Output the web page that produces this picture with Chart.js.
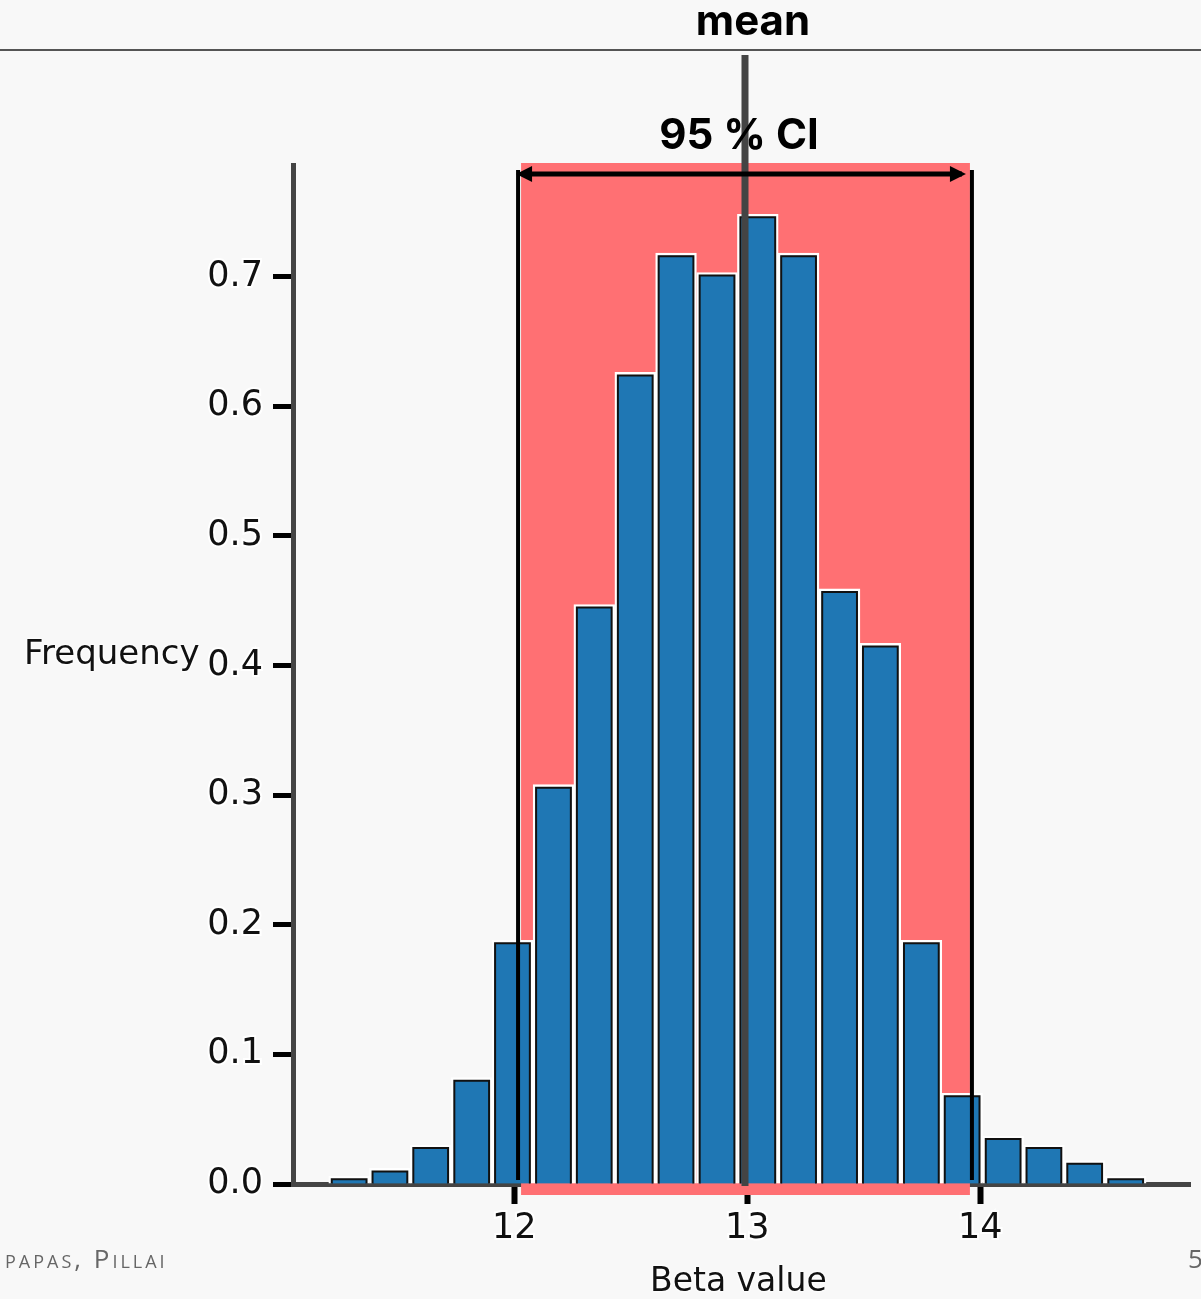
<!DOCTYPE html>
<html>
<head>
<meta charset="utf-8">
<script src="https://cdn.jsdelivr.net/npm/chart.js@4.4.1/dist/chart.umd.min.js"></script>
<style>
  html, body { margin: 0; padding: 0; background: #f8f8f8; }
  body { width: 1201px; height: 1299px; position: relative; overflow: hidden; }
  #wrap { position: absolute; left: 0; top: 0; width: 1201px; height: 1299px; }
  .lbl { position: absolute; white-space: nowrap; color: #111; }
  .halo { font-family: "DejaVu Sans", sans-serif; text-shadow: 0 0 3px #fff, 0 0 3px #fff, 0 0 2px #fff; }
  .head { font-family: Inter, "Open Sans", sans-serif; font-weight: 700; color: #000; transform: translateX(-50%); }
  #topline { position: absolute; left: 0; top: 49px; width: 1201px; height: 2px; background: #555; }
</style>
</head>
<body>
<div id="topline"></div>
<div id="wrap"><canvas id="hist"></canvas></div>
<div class="lbl head" style="left:753px; top:-6px; font-size:42px;">mean</div>
<div class="lbl head" style="left:739px; top:108px; font-size:42px;">95 % CI</div>
<div class="lbl halo" style="left:24px; top:632px; font-size:34px;">Frequency</div>
<div class="lbl halo" style="left:650px; top:1260px; font-size:33px;">Beta value</div>
<div class="lbl" style="left:5px; top:1240px; font-size:26px; font-family:'Open Sans',sans-serif; font-variant:small-caps; letter-spacing:3px; color:#666;">papas, Pillai</div>
<div class="lbl" style="left:1188px; top:1240px; font-size:26px; font-family:'Open Sans',sans-serif; color:#666;">5</div>
<script>
// histogram bins
var binCenters = [11.291, 11.466, 11.641, 11.817, 11.992, 12.168, 12.343, 12.519, 12.694, 12.870,
                  13.045, 13.220, 13.396, 13.571, 13.747, 13.922, 14.098, 14.273, 14.448, 14.624];
var frequency  = [0.006, 0.012, 0.030, 0.082, 0.188, 0.308, 0.447, 0.626, 0.718, 0.703,
                  0.748, 0.718, 0.459, 0.417, 0.188, 0.070, 0.037, 0.030, 0.018, 0.006];
var xTickValues = [12, 13, 14];
var yTickValues = [0.0, 0.1, 0.2, 0.3, 0.4, 0.5, 0.6, 0.7];
var meanValue = 12.99;
var ciBounds = [12.016, 13.964];

var points = [];
for (let i = 0; i < binCenters.length; i++) {
    points.push({x: binCenters[i], y: frequency[i]});
}

// red CI band behind the bars, lines and arrow on top
var ciPlugin = {
    id: 'ciPlugin',
    beforeDatasetsDraw: function (chart) {
        var ctx = chart.ctx, xs = chart.scales.x;
        var x0 = xs.getPixelForValue(ciBounds[0]), x1 = xs.getPixelForValue(ciBounds[1]);
        ctx.save();
        ctx.fillStyle = 'rgb(255, 112, 115)';
        ctx.fillRect(x0 + 3, 163, x1 - x0 - 5, 1195 - 163);
        ctx.restore();
    },
    afterDatasetsDraw: function (chart) {
        var ctx = chart.ctx, xs = chart.scales.x;
        // dark inner edge of the bars
        var meta = chart.getDatasetMeta(0);
        ctx.save();
        ctx.strokeStyle = '#111';
        ctx.lineWidth = 2;
        meta.data.forEach(function (bar) {
            var p = bar.getProps(['x', 'y', 'base', 'width'], true);
            var l = p.x - p.width / 2 + 3, r = p.x + p.width / 2 - 3;
            ctx.beginPath();
            ctx.moveTo(l, p.base);
            ctx.lineTo(l, p.y + 3);
            ctx.lineTo(r, p.y + 3);
            ctx.lineTo(r, p.base);
            ctx.stroke();
        });
        var x0 = xs.getPixelForValue(ciBounds[0]), x1 = xs.getPixelForValue(ciBounds[1]);
        var xm = xs.getPixelForValue(meanValue);
        // CI bounds
        ctx.strokeStyle = '#000';
        ctx.lineWidth = 4;
        [x0, x1].forEach(function (x) {
            ctx.beginPath();
            ctx.moveTo(x, 170);
            ctx.lineTo(x, 1180);
            ctx.stroke();
        });
        // mean line
        ctx.strokeStyle = '#444';
        ctx.lineWidth = 7;
        ctx.beginPath();
        ctx.moveTo(xm, 55);
        ctx.lineTo(xm, 1186);
        ctx.stroke();
        // double arrow
        var ay = 174;
        ctx.strokeStyle = '#000';
        ctx.fillStyle = '#000';
        ctx.lineWidth = 5;
        ctx.beginPath();
        ctx.moveTo(x0 + 10, ay);
        ctx.lineTo(x1 - 10, ay);
        ctx.stroke();
        ctx.beginPath();
        ctx.moveTo(x0 - 2, ay);
        ctx.lineTo(x0 + 14, ay - 8);
        ctx.lineTo(x0 + 14, ay + 8);
        ctx.closePath();
        ctx.fill();
        ctx.beginPath();
        ctx.moveTo(x1 - 6, ay);
        ctx.lineTo(x1 - 22, ay - 8);
        ctx.lineTo(x1 - 22, ay + 8);
        ctx.closePath();
        ctx.fill();
        ctx.restore();
    }
};

var tickFont = {family: 'DejaVu Sans', size: 35};

new Chart(document.getElementById('hist'), {
    type: 'bar',
    data: {
        datasets: [{
            label: 'Frequency',
            data: points,
            backgroundColor: '#1f77b4',
            borderColor: '#ffffff',
            borderWidth: 3,
            barPercentage: 1.0,
            categoryPercentage: 1.0
        }]
    },
    options: {
        responsive: true,
        maintainAspectRatio: false,
        animation: false,
        layout: {padding: {top: 165, right: 11, left: 0, bottom: 0}},
        plugins: {
            legend: {display: false},
            tooltip: {enabled: false}
        },
        scales: {
            x: {
                type: 'linear',
                min: 11.05,
                max: 14.9,
                offset: false,
                afterFit: function (s) { s.height = 1299 - 1184; },
                afterBuildTicks: function (s) {
                    s.ticks = xTickValues.map(function (v) { return {value: v}; });
                },
                grid: {drawOnChartArea: false, offset: false, tickLength: 20, tickWidth: 6, tickColor: '#000'},
                border: {color: '#444', width: 5},
                ticks: {
                    font: tickFont, color: '#111', padding: 4,
                    textStrokeColor: '#fff', textStrokeWidth: 4,
                    maxRotation: 0,
                    callback: function (v) { return String(v); }
                }
            },
            y: {
                min: 0,
                max: 0.786,
                afterFit: function (s) { s.width = 293; },
                afterBuildTicks: function (s) {
                    s.ticks = yTickValues.map(function (v) { return {value: v}; });
                },
                grid: {drawOnChartArea: false, tickLength: 20, tickWidth: 5, tickColor: '#000'},
                border: {color: '#444', width: 5},
                ticks: {
                    font: tickFont, color: '#111', padding: 10,
                    textStrokeColor: '#fff', textStrokeWidth: 4,
                    callback: function (v) { return Number(v).toFixed(1); }
                }
            }
        }
    },
    plugins: [ciPlugin]
});
</script>
</body>
</html>
